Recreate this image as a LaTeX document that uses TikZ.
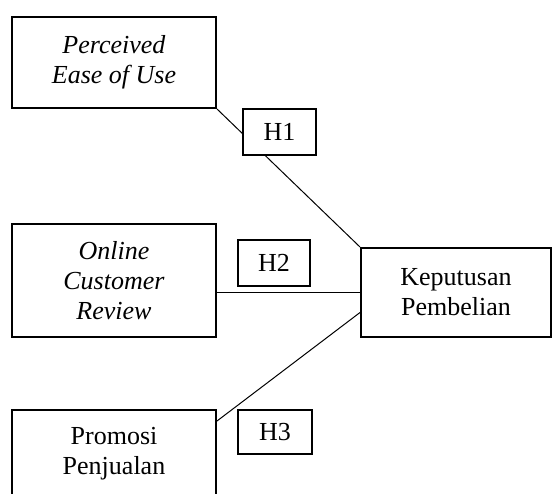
\documentclass[tikz,border=0pt]{standalone}
\usepackage{fontspec}
\setmainfont{Liberation Serif}
\usepackage{tikz}
\tikzstyle{var box}=[
        draw = black,
        line width = 2pt,
        fill = white,
        minimum width = 204pt,
        align = center,
        font = \fontsize{26}{30}\selectfont
    ]
\tikzstyle{hyp box}=[
    draw = black,
    line width = 2pt,
    fill = white,
    minimum width = 73pt,
    minimum height = 46pt,
    font = \fontsize{26}{30}\selectfont
]

\begin{document}
\begin{tikzpicture}[x=1pt, y=-1pt, line width=1pt]
        \useasboundingbox (0,0) rectangle (553,494);

        \node[var box, minimum height = 91pt] (peou) at (114,62.5) {\textit{Perceived}\\\textit{Ease of Use}};
        \node[var box, minimum height = 113pt] (ocr) at (114,280.5) {\textit{Online}\\\textit{Customer}\\\textit{Review}};
        \node[var box, minimum height = 88pt] (pp) at (114,454) {Promosi\\Penjualan};
        \node[var box, minimum width = 190pt, minimum height = 89pt] (kp) at (456,292.5) {Keputusan\\Pembelian};

        \draw (peou.south east) -- (kp.north west);
        \draw (kp.west) -- (kp.west -| ocr.east);
        \draw ([yshift=-20pt]kp.west) -- ([yshift=-12pt]pp.north east);

        \node[hyp box] (h1) at (279.5,132) {H1};
        \node[hyp box, minimum width = 72pt] (h2) at (274,263) {H2};
        \node[hyp box, minimum width = 74pt, minimum height = 44pt] (h3) at (275,432) {H3};

    \end{tikzpicture}
\end{document}
